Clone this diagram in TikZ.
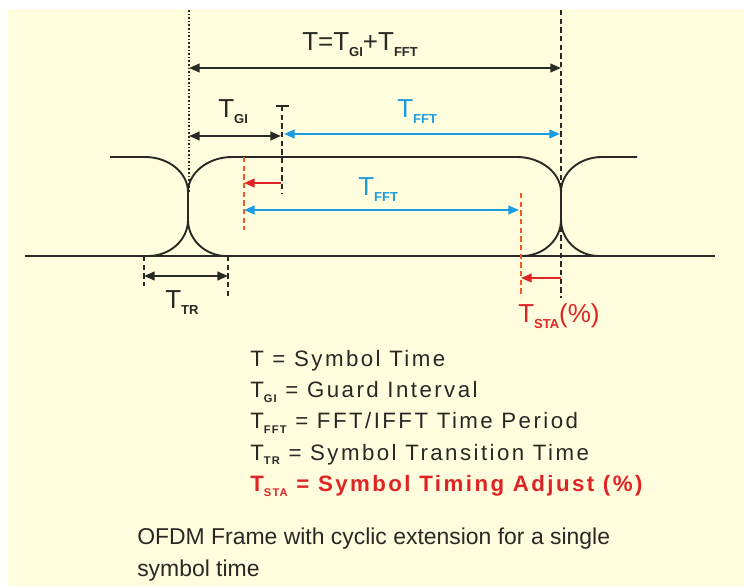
\documentclass[tikz,border=0pt]{standalone}
\usepackage{fontspec}
\setmainfont{Liberation Sans}
\newfontfamily\legfont[LetterSpace=11]{Liberation Sans}
\usetikzlibrary{arrows.meta}
\definecolor{bg}{RGB}{255,253,222}
\definecolor{ink}{RGB}{40,40,36}
\definecolor{skyb}{RGB}{28,156,224}
\definecolor{rd}{RGB}{222,36,36}
\definecolor{orn}{RGB}{240,90,40}
\newcommand\sbx[1]{\raisebox{-0.22em}{\scalebox{0.5}{\bfseries #1}}}
\tikzset{
  wave/.style={draw=ink,line width=1.4pt},
  guide/.style={draw=ink,line width=1.1pt,dash pattern=on 4pt off 2.5pt},
  dotguide/.style={draw=ink,line width=1.1pt,dash pattern=on 1.2pt off 1.5pt},
  redguide/.style={draw=orn,line width=1.1pt,dash pattern=on 4pt off 2.5pt},
  dim/.style={draw=ink,line width=1.5pt,{Triangle[length=8pt,width=6.5pt]}-{Triangle[length=8pt,width=6.5pt]}},
  bdim/.style={draw=skyb,line width=1.5pt,{Triangle[length=8pt,width=6.5pt]}-{Triangle[length=8pt,width=6.5pt]}},
  rarr/.style={draw=rd,line width=1.5pt,-{Triangle[length=8pt,width=6.5pt]}},
  lbl/.style={anchor=base west,inner sep=0pt,font=\fontsize{19.5pt}{22pt}\selectfont},
  leg/.style={anchor=base west,inner sep=0pt,font=\fontsize{16.7pt}{20pt}\selectfont\legfont},
  captxt/.style={anchor=base west,inner sep=0pt,font=\fontsize{17.2pt}{22pt}\selectfont,text=ink}
}
\begin{document}
\begin{tikzpicture}[x=0.75pt,y=-0.75pt]
\useasboundingbox (0,0) rectangle (744,588);
\fill[bg] (8,9) rectangle (744,586);

% guide coordinates
\coordinate (gLt) at (189,10);  \coordinate (gLb) at (189,192);
\coordinate (gRt) at (561,10);  \coordinate (gRb) at (561,298);
\coordinate (gMt) at (282,106); \coordinate (gMb) at (282,193);
\coordinate (rAt) at (244,157); \coordinate (rAb) at (244,230);
\coordinate (rBt) at (521,193); \coordinate (rBb) at (521,297);
\coordinate (trLt) at (144,256); \coordinate (trLb) at (144,286);
\coordinate (trRt) at (228,256); \coordinate (trRb) at (228,298);

% waveform
\draw[wave] (25,256) -- (715,256);
\draw[wave] (110,157) -- (145,157) .. controls (169,157) and (188,173) .. (188,192) -- (188,220)
  .. controls (188,240) and (170,256) .. (148,256);
\draw[wave] (188,192) .. controls (188,173) and (208,157) .. (232,157) -- (517,157)
  .. controls (541,157) and (561,173) .. (561,192) -- (561,220)
  .. controls (561,240) and (543,256) .. (522,256);
\draw[wave] (188,220) .. controls (188,240) and (206,256) .. (226,256);
\draw[wave] (637,157) -- (602,157) .. controls (579,157) and (561,173) .. (561,192);
\draw[wave] (561,220) .. controls (561,240) and (578,256) .. (599,256);

% guides
\draw[dotguide] (gLt) -- (gLb);
\draw[guide] (gRt) -- (gRb);
\draw[guide] (gMt) -- (gMb);
\draw[ink,line width=1.1pt] (276,106) -- (289,106);
\draw[redguide] (rAt) -- (rAb);
\draw[redguide] (rBt) -- (rBb);
\draw[guide] (trLt) -- (trLb);
\draw[guide] (trRt) -- (trRb);

% dimension arrows
\draw[dim] (189,68) -- (561,68);
\draw[dim] (189,136) -- (281,136);
\draw[bdim] (284,134) -- (560,134);
\draw[rarr] (281,183) -- (244,183);
\draw[bdim] (244,210) -- (519,210);
\draw[rarr] (561,278) -- (521,278);
\draw[dim] (144,276) -- (228,276);

% labels
\node[lbl,text=ink] (lT) at (302,51) {T=T\sbx{GI}+T\sbx{FFT}};
\node[lbl,text=ink] (lGI) at (218,118) {T\sbx{GI}};
\node[lbl,text=skyb] (lF1) at (397,118) {T\sbx{FFT}};
\node[lbl,text=skyb] (lF2) at (358,196) {T\sbx{FFT}};
\node[lbl,text=ink] (lTR) at (165,309) {T\sbx{TR}};
\node[lbl,text=rd] (lSTA) at (518,323) {T\sbx{STA}(\%)};

% legend
\node[leg,text=ink] (g1) at (250,367) {T = Symbol Time};
\node[leg,text=ink] (g2) at (250,398) {T\sbx{GI} = Guard Interval};
\node[leg,text=ink] (g3) at (250,429) {T\sbx{FFT} = FFT/IFFT Time Period};
\node[leg,text=ink] (g4) at (250,460) {T\sbx{TR} = Symbol Transition Time};
\node[leg,text=rd] (g5) at (250,492) {\bfseries T\sbx{STA} = Symbol Timing Adjust (\%)};

% caption
\node[captxt] (c1) at (137,545) {OFDM Frame with cyclic extension for a single};
\node[captxt] (c2) at (137,576) {symbol time};
\end{tikzpicture}
\end{document}
